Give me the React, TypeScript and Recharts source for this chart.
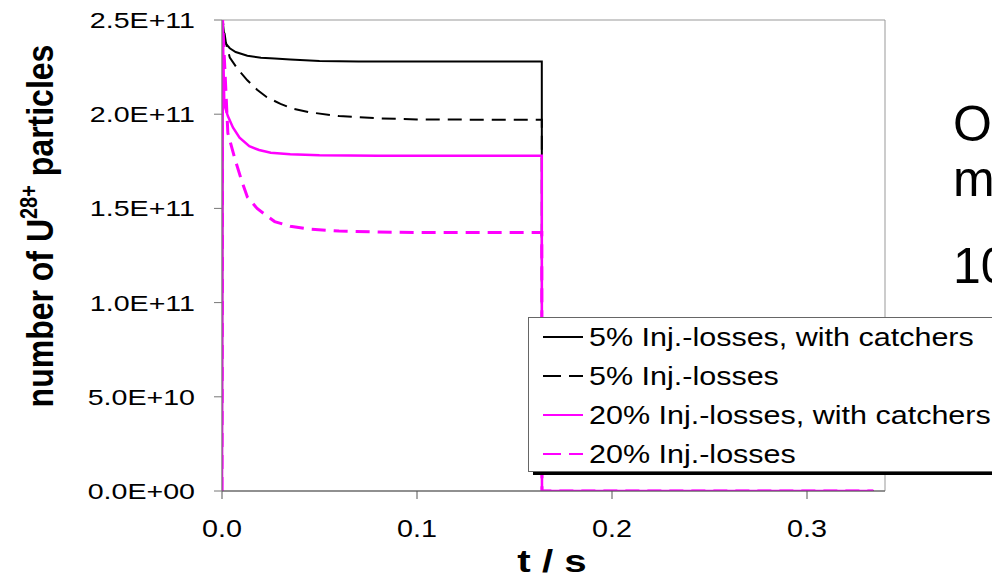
import React from 'react'
import { LineChart, Line, XAxis, YAxis, ReferenceArea } from 'recharts'

// time axis in seconds, particle numbers
const tSolid5 = [0, 0.0003, 0.0015, 0.004, 0.007, 0.013, 0.02, 0.027, 0.035, 0.05, 0.07, 0.1, 0.164, 0.1641, 0.334]
const vSolid5 = [0, 2.5e11, 2.38e11, 2.35e11, 2.33e11, 2.31e11, 2.3e11, 2.295e11, 2.29e11, 2.283e11, 2.28e11, 2.28e11, 2.28e11, 0, 0]

const tDash5 = [0, 0.0003, 0.002, 0.004, 0.008, 0.013, 0.018, 0.023, 0.03, 0.036, 0.045, 0.06, 0.08, 0.1, 0.164, 0.1641, 0.334]
const vDash5 = [0, 2.5e11, 2.38e11, 2.3e11, 2.24e11, 2.18e11, 2.13e11, 2.09e11, 2.055e11, 2.03e11, 2.01e11, 1.99e11, 1.978e11, 1.972e11, 1.97e11, 0, 0]

const tSolid20 = [0, 0.0003, 0.0012, 0.003, 0.0056, 0.009, 0.014, 0.019, 0.025, 0.035, 0.05, 0.08, 0.164, 0.1641, 0.334]
const vSolid20 = [0, 2.5e11, 2.05e11, 1.99e11, 1.93e11, 1.875e11, 1.83e11, 1.81e11, 1.795e11, 1.787e11, 1.782e11, 1.78e11, 1.78e11, 0, 0]

const tDash20 = [0, 0.0003, 0.003, 0.0067, 0.01, 0.013, 0.018, 0.023, 0.027, 0.035, 0.045, 0.06, 0.08, 0.1, 0.164, 0.1641, 0.334]
const vDash20 = [0, 2.5e11, 1.9e11, 1.76e11, 1.65e11, 1.56e11, 1.5e11, 1.46e11, 1.43e11, 1.405e11, 1.39e11, 1.38e11, 1.375e11, 1.372e11, 1.372e11, 0, 0]

const xTicks = [0, 0.1, 0.2, 0.3]
const yTicks = [0, 0.5e11, 1.0e11, 1.5e11, 2.0e11, 2.5e11]

const legendLabels = [
  '5% Inj.-losses, with catchers',
  '5% Inj.-losses',
  '20% Inj.-losses, with catchers',
  '20% Inj.-losses',
]
const sideText = ['O', 'm', '10']

const FONT = '"Liberation Sans", Arial, sans-serif'
const MAGENTA = '#ff00ff'

const toPoints = (ts: number[], vs: number[]) => ts.map((t, i) => ({ t, v: vs[i] }))

const seriesList = [
  { name: legendLabels[0], data: toPoints(tSolid5, vSolid5), color: '#000', width: 2, dash: undefined },
  { name: legendLabels[1], data: toPoints(tDash5, vDash5), color: '#000', width: 2, dash: '14 8' },
  { name: legendLabels[2], data: toPoints(tSolid20, vSolid20), color: MAGENTA, width: 2.5, dash: undefined },
  { name: legendLabels[3], data: toPoints(tDash20, vDash20), color: MAGENTA, width: 3, dash: '14 8' },
]

// 2.5E+11 style, exponent padded to two digits
const fmtSci = (v: number) => {
  if (v === 0) return '0.0E+00'
  const exp = Math.floor(Math.log10(Math.abs(v)))
  const mant = v / Math.pow(10, exp)
  return `${mant.toFixed(1)}E+${String(exp).padStart(2, '0')}`
}

const YTick = ({ x, y, payload }: any) => (
  <text
    transform={`translate(${x},${y}) scale(1.3,1)`}
    textAnchor="end"
    dy="0.36em"
    fontSize={22}
    fontFamily={FONT}
    fill="#000"
  >
    {fmtSci(payload.value)}
  </text>
)

const XTick = ({ x, y, payload }: any) => (
  <text
    transform={`translate(${x},${y}) scale(1.25,1)`}
    textAnchor="middle"
    dy="0.72em"
    fontSize={23}
    fontFamily={FONT}
    fill="#000"
  >
    {payload.value.toFixed(1)}
  </text>
)

const YLabel = ({ viewBox }: any) => {
  const cx = viewBox.x + 53
  const cy = viewBox.y + 206
  return (
    <text
      transform={`translate(${cx},${cy}) scale(1.15,1) rotate(-90)`}
      textAnchor="middle"
      fontSize={32}
      fontWeight="bold"
      fontFamily={FONT}
      fill="#000"
    >
      number of U
      <tspan fontSize={20} dy={-14}>28+</tspan>
      <tspan dy={14}> particles</tspan>
    </text>
  )
}

const XLabel = ({ viewBox }: any) => (
  <text
    transform={`translate(${viewBox.x + 330},${viewBox.y + 81}) scale(1.3,1)`}
    textAnchor="middle"
    fontSize={31}
    fontWeight="bold"
    fontFamily={FONT}
    fill="#000"
  >
    t / s
  </text>
)

function ChartLegend() {
  return (
    <div
      style={{
        position: 'absolute',
        left: 528,
        top: 317,
        width: 520,
        height: 153,
        background: '#fff',
        border: '1px solid #666',
        boxShadow: '5px 3px 0 0 #000',
        fontFamily: FONT,
        fontSize: 25,
        color: '#000',
      }}
    >
      {seriesList.map((s, i) => (
        <div
          key={s.name}
          style={{ position: 'absolute', left: 14, top: 0 + i * 39, height: 38, display: 'flex', alignItems: 'center' }}
        >
          <svg width={40} height={10} style={{ display: 'block' }}>
            <line x1={0} y1={5} x2={40} y2={5} stroke={s.color} strokeWidth={2} strokeDasharray={s.dash ? '18 8' : undefined} />
          </svg>
          <span
            style={{
              display: 'inline-block',
              marginLeft: 6,
              whiteSpace: 'nowrap',
              transform: 'scaleX(1.22)',
              transformOrigin: 'left center',
            }}
          >
            {s.name}
          </span>
        </div>
      ))}
    </div>
  )
}

export default function App() {
  return (
    <div
      style={{
        position: 'fixed',
        left: 0,
        top: 0,
        width: 992,
        height: 580,
        overflow: 'hidden',
        background: '#fff',
      }}
    >
      <LineChart width={992} height={580} margin={{ top: 20, right: 107, bottom: 0, left: 0 }}>
        <XAxis
          type="number"
          dataKey="t"
          height={89}
          domain={[0, 0.34]}
          ticks={xTicks}
          allowDataOverflow
          tick={<XTick />}
          tickSize={8}
          tickMargin={21}
          stroke="#555"
          label={<XLabel />}
        />
        <YAxis
          type="number"
          dataKey="v"
          width={222}
          domain={[0, 2.5e11]}
          ticks={yTicks}
          allowDataOverflow
          tick={<YTick />}
          tickSize={8}
          tickMargin={19}
          stroke="#777"
          label={<YLabel />}
        />
        <ReferenceArea x1={0} x2={0.34} y1={0} y2={2.5e11} fill="none" stroke="#999" strokeWidth={1} />
        {seriesList.map((s) => (
          <Line
            key={s.name}
            data={s.data}
            dataKey="v"
            name={s.name}
            type="linear"
            stroke={s.color}
            strokeWidth={s.width}
            strokeDasharray={s.dash}
            dot={false}
            isAnimationActive={false}
          />
        ))}
      </LineChart>
      <ChartLegend />
      {sideText.map((txt, i) => (
        <div
          key={txt}
          style={{
            position: 'absolute',
            left: 953,
            top: [142, 197, 284][i] - 46,
            fontFamily: FONT,
            fontSize: 50,
            lineHeight: '56px',
            color: '#000',
            whiteSpace: 'nowrap',
          }}
        >
          {txt}
        </div>
      ))}
    </div>
  )
}
